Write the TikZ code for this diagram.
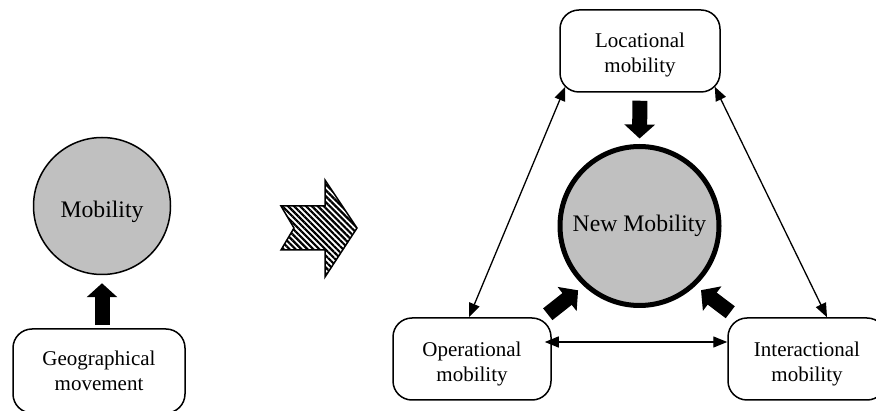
\documentclass[tikz,border=0pt]{standalone}
\usepackage{fontspec}
\setmainfont{Liberation Serif}
\usetikzlibrary{arrows.meta,patterns.meta,calc}
\definecolor{circgray}{HTML}{C0C0C0}
\tikzset{
  box/.style={draw, line width=1.5pt, rounded corners=19pt, minimum width=158pt, minimum height=82pt, inner sep=0pt, align=center, font=\fontsize{21}{25}\selectfont},
  lbl/.style={align=center, font=\fontsize{21}{25}\selectfont, inner sep=0pt},
  circ/.style={circle, draw, fill=circgray, inner sep=0pt, font=\fontsize{23.7}{28}\selectfont},
  fat/.style={line width=15pt, -{Triangle[length=14pt,width=30pt]}},
  link/.style={line width=1.3pt, {Triangle[length=14pt,width=11pt]}-{Triangle[length=14pt,width=11pt]}},
}
\begin{document}
\begin{tikzpicture}[x=1pt,y=-1pt]
\clip (0,0) rectangle (876,411);
% left part
\node[circ, line width=1.5pt, minimum size=137pt,
  label={[font=\fontsize{23.7}{28}\selectfont, inner sep=0pt, yshift=-6pt]center:Mobility}] (mob) at (102,206) {};
\node[box, minimum width=172pt, minimum height=84pt] (geo) at (99,371) {Geographical\\movement};
\draw[fat, shorten <=3pt, shorten >=8pt] (geo.north -| mob.south) -- (mob.south);
% hatched arrow
\draw[line width=1.5pt, line join=miter, pattern={Lines[angle=-45, distance=4.2pt, line width=2.2pt]}]
  (281,206) -- (325,206) -- (325,180) -- (357,228) -- (325,277) -- (325,250) -- (281,250) -- (294,228) -- cycle;
% right part
\node[circ, line width=5pt, minimum size=159pt] (newm) at (639.5,226) {New Mobility};
\node[box, minimum width=160pt, label={[lbl, yshift=-4pt]center:{Locational\\mobility}}] (loc) at (640,51) {};
\node[box, label={[lbl, yshift=-5pt]center:{Operational\\mobility}}] (op) at (472,359) {};
\node[box, label={[lbl, yshift=-5pt]center:{Interactional\\mobility}}] (int) at (807,359) {};
% thick arrows
\draw[fat, shorten <=8pt, shorten >=5.5pt] (loc.south) -- (newm.north);
\draw[fat, shorten >=7pt] ([xshift=-4pt,yshift=3pt]op.north east) -- (newm.227);
\draw[fat, shorten >=7pt] ([xshift=3pt,yshift=5pt]int.north west) -- (newm.313);
% thin double arrows
\draw[link] ([xshift=6pt,yshift=6pt]loc.south west) -- ([xshift=-3pt]op.north);
\draw[link] ([xshift=-6pt,yshift=6pt]loc.south east) -- ([xshift=20pt]int.north);
\coordinate (hl) at ([xshift=-7pt,yshift=17pt]op.east);
\draw[link] (hl) -- (int.west |- hl);
\end{tikzpicture}
\end{document}
